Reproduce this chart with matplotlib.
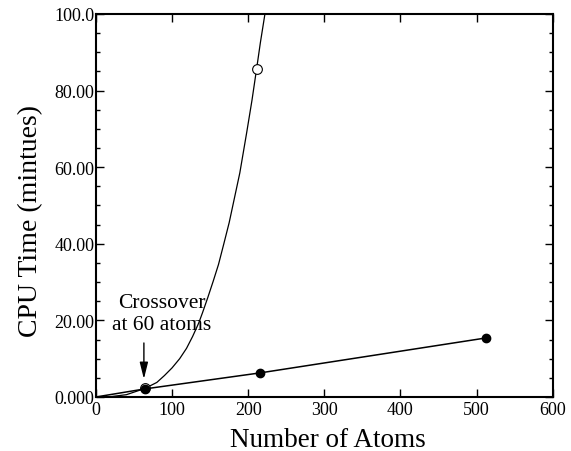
"""
CPU time vs number of atoms, crossover plot
"""

import numpy as np
import matplotlib
matplotlib.use('Agg')
import matplotlib.pyplot as plt
from matplotlib.ticker import MultipleLocator

# filled points (linear scaling method)
lin_atoms = [0, 64, 216, 512]
lin_time = [0.0, 2.1, 6.3, 15.4]

# open points (steep method) and its drawn curve
steep_atoms = [64, 211]
steep_time = [2.3, 85.6]
curve_atoms = [0, 20, 40, 64, 80, 90, 100, 110, 119, 127, 135, 140, 147, 154,
               161, 168, 175, 182, 189, 198, 205, 211, 216, 222]
curve_time = [0.0, 0.1, 0.6, 2.2, 3.8, 5.6, 7.6, 10.0, 12.7, 15.8, 19.3, 22.0, 26.0, 30.2,
              34.6, 40.0, 45.5, 52.0, 58.5, 69.0, 77.5, 85.6, 92.5, 100.0]

yticks = [0, 20, 40, 60, 80, 100]
ytick_labels = ['0.000', '20.00', '40.00', '60.00', '80.00', '100.0']
xticks = [0, 100, 200, 300, 400, 500, 600]

plt.rcParams['font.family'] = ['Liberation Serif', 'DejaVu Serif']
fs = 13

fig = plt.figure(figsize=(5.71, 4.52), dpi=100)
ax = fig.add_axes([0.168, 0.1195, 0.800, 0.8475])

ax.plot(curve_atoms, curve_time, color='black', linewidth=0.9)
ax.plot(steep_atoms, steep_time, linestyle='none', marker='o', markersize=7,
        markerfacecolor='white', markeredgecolor='black', markeredgewidth=0.8)
ax.plot(lin_atoms, lin_time, color='black', linewidth=1.1)
ax.plot(lin_atoms[1:], lin_time[1:], linestyle='none', marker='o', markersize=6,
        color='black')

# crossover note with vertical arrow
ax.text(86, 21.7, 'Crossover\nat 60 atoms', ha='center', va='center',
        fontsize=15.5, linespacing=1.2)
ax.annotate('', xy=(63, 4.7), xytext=(63, 14.1),
            arrowprops=dict(arrowstyle='-|>,head_length=1.0,head_width=0.25',
                            color='black', lw=1.0, shrinkA=0, shrinkB=0))

ax.set_xlim(0, 600)
ax.set_ylim(0, 100)
ax.set_xticks(xticks)
ax.set_yticks(yticks)
ax.set_yticklabels(ytick_labels)
ax.yaxis.set_minor_locator(MultipleLocator(5))
ax.tick_params(which='both', direction='in', top=True, right=True, labelsize=fs)
ax.tick_params(which='major', length=6, width=1)
ax.tick_params(which='minor', length=3, width=1)
ax.tick_params(axis='x', pad=3)
ax.tick_params(axis='y', pad=1)
for s in ax.spines.values():
    s.set_linewidth(1.5)

ax.set_xlabel('Number of Atoms', fontsize=19.5, va='top')
ax.xaxis.set_label_coords(0.507, -0.078)
ax.set_ylabel('CPU Time (mintues)', fontsize=20)
ax.yaxis.set_label_coords(-0.116, 0.462)

fig.savefig('out.png', dpi=100)
